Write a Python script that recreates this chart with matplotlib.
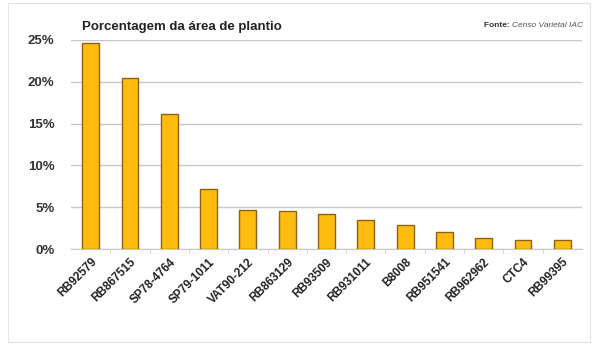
import matplotlib.pyplot as plt
from matplotlib.ticker import PercentFormatter
from matplotlib.patches import Rectangle

varieties = ['RB92579', 'RB867515', 'SP78-4764', 'SP79-1011', 'VAT90-212',
             'RB863129', 'RB93509', 'RB931011', 'B8008', 'RB951541',
             'RB962962', 'CTC4', 'RB99395']
area_pct = [24.6, 20.5, 16.2, 7.2, 4.7, 4.6, 4.2, 3.5, 2.9, 2.0, 1.3, 1.1, 1.1]
yticks = [0, 5, 10, 15, 20, 25]

plt.rcParams['font.family'] = ['Liberation Sans', 'DejaVu Sans']

fig = plt.figure(figsize=(6.09, 3.44), dpi=100)
fig.patches.append(Rectangle((0.013, 0.005), 0.955, 0.985, transform=fig.transFigure,
                             fill=False, ec='#e4e4e4', lw=0.8))
ax = fig.add_axes([0.1166, 0.276, 0.839, 0.608])

x = list(range(len(varieties)))
ax.bar(x, area_pct, width=0.43, color='#FFBC0F', edgecolor='#8a6210', lw=1.0, zorder=3)

ax.set_xlim(-0.5, len(varieties) - 0.5)
ax.set_ylim(0, 25)
ax.set_yticks(yticks)
ax.yaxis.set_major_formatter(PercentFormatter(decimals=0))
ax.grid(axis='y', color='#c8c8c8', lw=1.0, zorder=0)
ax.tick_params(axis='y', length=0, pad=12, labelsize=9.5, labelcolor='#333333')
ax.tick_params(axis='x', which='major', length=0, pad=5, labelsize=8.5, labelcolor='#222222')
# category separators like the spreadsheet chart
ax.set_xticks([i + 0.5 for i in x[:-1]], minor=True)
ax.tick_params(axis='x', which='minor', length=3, color='#d0d0d0')
for s in ['top', 'right', 'left']:
    ax.spines[s].set_visible(False)
ax.spines['bottom'].set_color('#c8c8c8')

ax.set_xticks(x)
ax.set_xticklabels(varieties, rotation=45, ha='right', rotation_mode='anchor',
                   fontweight='bold')
for lbl in ax.get_yticklabels():
    lbl.set_fontweight('bold')

fig.text(0.135, 0.905, 'Porcentagem da área de plantio', fontsize=9.5,
         fontweight='bold', color='#222222', va='bottom')
src = fig.text(0.957, 0.915, 'Censo Varietal IAC', fontsize=6, fontstyle='italic',
               color='#555555', ha='right', va='bottom')
ax.annotate('Fonte: ', xy=(0, 0), xycoords=src, fontsize=6, fontweight='bold',
            color='#333333', ha='right', va='bottom', annotation_clip=False)

fig.savefig('out.png', dpi=100)
